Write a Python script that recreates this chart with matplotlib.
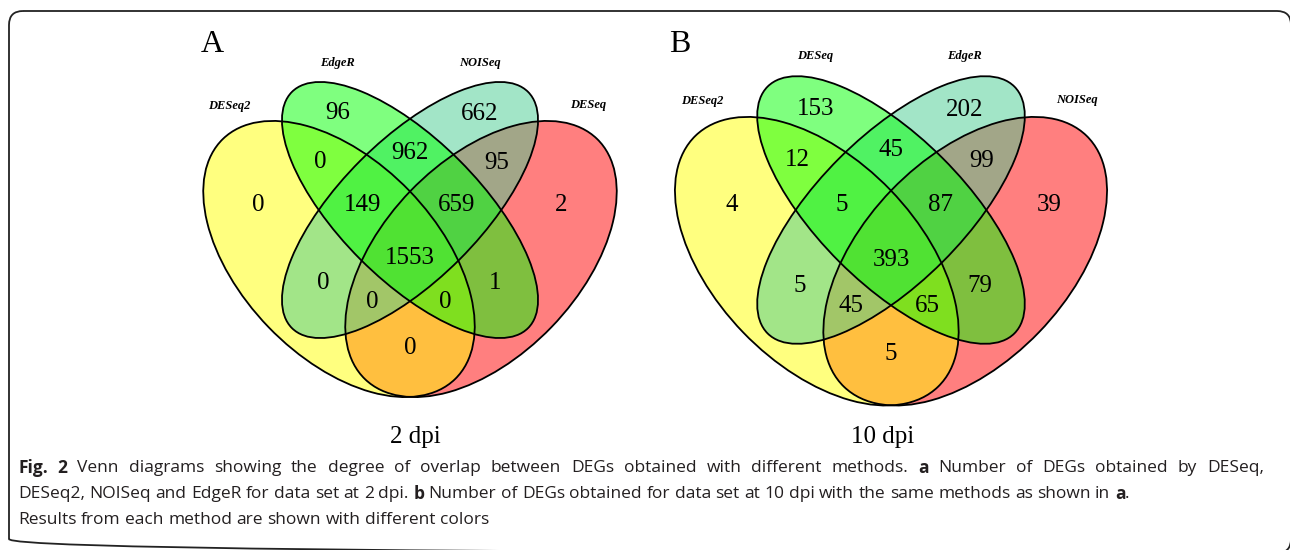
import matplotlib
matplotlib.use('Agg')
import matplotlib.pyplot as plt
from matplotlib.patches import Ellipse, FancyBboxPatch

# set names in drawing position: left, middle-left, middle-right, right
sets_a = ['DESeq2', 'EdgeR', 'NOISeq', 'DESeq']
sets_b = ['DESeq2', 'DESeq', 'EdgeR', 'NOISeq']

# regions as membership of positions 1..4
regions = ['1', '2', '3', '4', '12', '23', '34', '123', '234', '1234', '13', '24', '134', '124', '14']
counts_a = [0, 96, 662, 2, 0, 962, 95, 149, 659, 1553, 0, 1, 0, 0, 0]
counts_b = [4, 153, 202, 39, 12, 45, 99, 5, 87, 393, 5, 79, 45, 65, 5]

panel_titles = ['2 dpi', '10 dpi']

# layout of the diagram, pixel offsets from the centre of the two middle ellipses
label_pos = {'1': (-152, -5), '2': (-72, -97), '3': (70, -96), '4': (151, -5),
             '12': (-90, -48), '23': (0, -57), '34': (87, -47),
             '123': (-47, -5), '234': (47, -5), '1234': (0, 48),
             '13': (-87, 73), '24': (85, 73), '134': (-38, 92), '124': (35, 92),
             '14': (0, 138)}
name_pos = [(-181, -104), (-73, -147), (70, -147), (178, -105)]
# (dx, dy, semi-major, semi-minor, angle, colour) in fill order
shapes = [(71, 49, 167, 98, -46, '#FF0000'),
          (-71, 49, 167, 98, 46, '#FFFF00'),
          (0, 0, 167, 70, -45, '#46CD91'),
          (0, 0, 167, 70, 45, '#00FF00')]

fig = plt.figure(figsize=(12.9, 5.5), dpi=100)
ax = fig.add_axes([0, 0, 1, 1])
ax.set_xlim(0, 1290)
ax.set_ylim(550, 0)
ax.axis('off')

serif = 'Liberation Serif'


def venn4(cx, cy, k, names, counts):
    for dx, dy, a, b, ang, col in shapes:
        ax.add_patch(Ellipse((cx + k * dx, cy + k * dy), 2 * k * a, 2 * k * b, angle=ang,
                             facecolor=col, alpha=0.5, edgecolor='none'))
    for dx, dy, a, b, ang, col in shapes:
        ax.add_patch(Ellipse((cx + k * dx, cy + k * dy), 2 * k * a, 2 * k * b, angle=ang,
                             facecolor='none', edgecolor='black', lw=1.3))
    for reg, n in zip(regions, counts):
        dx, dy = label_pos[reg]
        ax.text(cx + k * dx, cy + k * dy, str(n), family=serif, fontsize=18,
                ha='center', va='center', color='black')
    for (dx, dy), nm in zip(name_pos, names):
        ax.text(cx + k * dx, cy + k * dy, nm, family=serif, fontsize=9,
                fontweight='bold', fontstyle='italic', ha='center', va='center')


venn4(410, 210, 1.0, sets_a, counts_a)
venn4(891, 210, 1.045, sets_b, counts_b)

ax.text(212, 45, 'A', family=serif, fontsize=23, ha='center', va='center')
ax.text(680, 45, 'B', family=serif, fontsize=23, ha='center', va='center')
ax.text(415, 437, panel_titles[0], family=serif, fontsize=18, ha='center', va='center')
ax.text(883, 437, panel_titles[1], family=serif, fontsize=18, ha='center', va='center')

# outer rounded frame, cut by the right and bottom edges
ax.add_patch(FancyBboxPatch((9, 11), 1282, 542, boxstyle='round,pad=0,rounding_size=14',
                            facecolor='none', edgecolor='#222222', lw=1.3))

# caption with bold pieces; the first line is justified
caption = [
    [('Fig. 2', 'bold'),
     ('Venn diagrams showing the degree of overlap between DEGs obtained with different methods.', 'normal'),
     ('a', 'bold'), ('Number of DEGs obtained by DESeq,', 'normal')],
    [('DESeq2, NOISeq and EdgeR for data set at 2 dpi.', 'normal'), ('b', 'bold'),
     ('Number of DEGs obtained for data set at 10 dpi with the same methods as shown in', 'normal'),
     ('a', 'bold'), ('.', 'normal')],
    [('Results from each method are shown with different colors', 'normal')],
]
justify = [True, False, False]
renderer = fig.canvas.get_renderer()
cap_kw = dict(family='Open Sans', fontsize=12.5, color='#231F20', ha='left', va='center')


def width_of(s, w):
    t = ax.text(0, 0, s, fontweight=w, **cap_kw)
    wd = t.get_window_extent(renderer).width
    t.remove()
    return wd


space = width_of('a a', 'normal') - 2 * width_of('a', 'normal')
for i, line in enumerate(caption):
    y = 468 + 26 * i
    # split into words, no space before a lone '.'
    words = []
    for s, w in line:
        for j, wd in enumerate(s.split(' ')):
            glue = not (words and s == '.')
            words.append((wd, w, glue))
    widths = [width_of(wd, w) for wd, w, _ in words]
    ngaps = sum(1 for wd in words[1:] if wd[2])
    gap = space
    if justify[i]:
        gap = (1264 - 18 - sum(widths)) / ngaps
    x = 18
    for k, ((wd, w, glue), wdt) in enumerate(zip(words, widths)):
        if k > 0 and glue:
            x += gap
        ax.text(x, y, wd, fontweight=w, **cap_kw)
        x += wdt

fig.savefig('out.png', dpi=100)
